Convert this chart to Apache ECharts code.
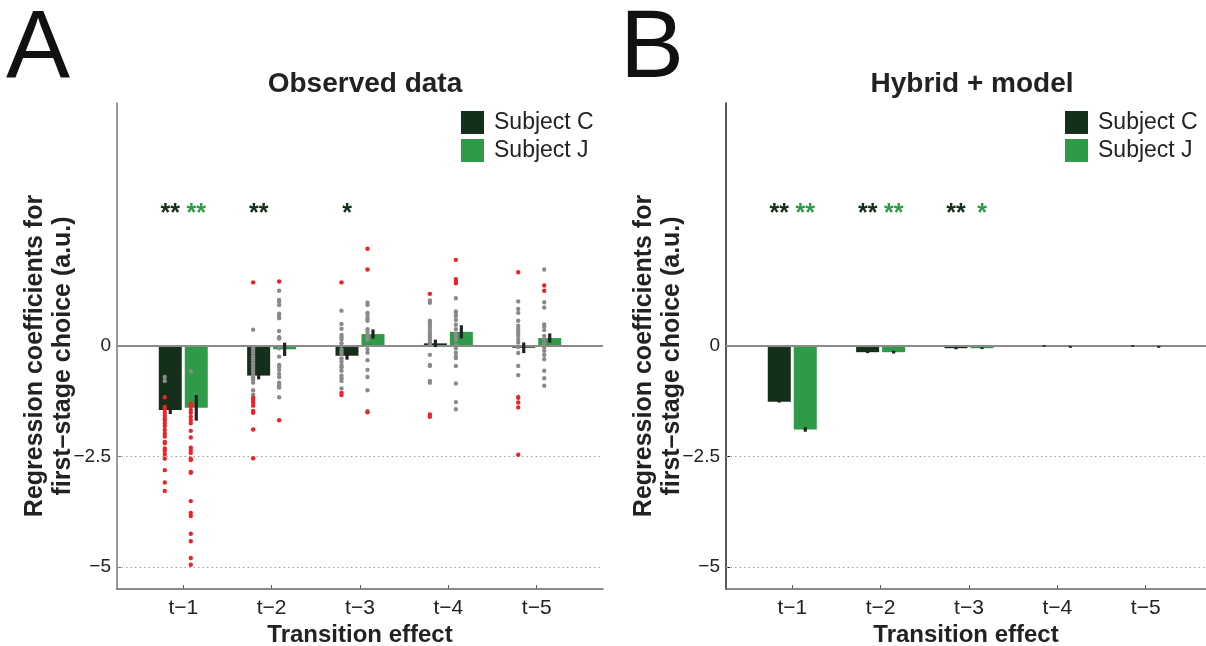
<!DOCTYPE html>
<html>
<head>
<meta charset="utf-8">
<script src="https://cdn.jsdelivr.net/npm/echarts@6/dist/echarts.min.js"></script>
<style>
  html, body { margin: 0; padding: 0; background: #fff; }
  #chart { width: 1206px; height: 646px; }
</style>
</head>
<body>
<div id="chart"></div>
<script>
// ---- data ----
const categories = ['t−1', 't−2', 't−3', 't−4', 't−5'];
const subjects = ['Subject C', 'Subject J'];
const yTicks = [0, -2.5, -5];

// Observed data: mean regression coefficient and standard error per lag
const observedC    = [-1.45, -0.67, -0.22, 0.06, -0.04];
const observedCErr = [0.09, 0.085, 0.09, 0.085, 0.12];
const observedJ    = [-1.40, -0.075, 0.27, 0.32, 0.18];
const observedJErr = [0.29, 0.15, 0.105, 0.15, 0.105];

// Hybrid + model simulations
const hybridC    = [-1.26, -0.14, -0.05, 0.01, 0.01];
const hybridCErr = [0.02, 0.02, 0.01, 0.01, 0.01];
const hybridJ    = [-1.89, -0.14, -0.05, -0.02, -0.02];
const hybridJErr = [0.05, 0.03, 0.02, 0.02, 0.02];

// Single-session coefficients (gray: not significant, red: significant)
const sessionsCGray = [
  [-0.70, -0.79],
  [0.37, -0.05, -0.11, -0.17, -0.23, -0.28, -0.33, -0.39, -0.45, -0.49, -0.54, -0.60, -0.66, -0.71, -0.76, -0.83, -1.00, -1.10],
  [0.80, 0.50, 0.39, 0.25, 0.20, 0.14, 0.06, -0.07, -0.13, -0.18, -0.28, -0.35, -0.43, -0.48, -0.56, -0.67, -0.73, -0.79, -0.96],
  [1.03, 0.98, 0.57, 0.53, 0.48, 0.42, 0.36, 0.30, 0.25, 0.20, 0.14, 0.08, 0.02, -0.20, -0.43, -0.45, -0.79, -0.83],
  [1.01, 0.84, 0.75, 0.57, 0.46, 0.40, 0.35, 0.29, 0.23, 0.15, 0.08, -0.02, -0.16, -0.45, -0.66, -1.15]
];
const sessionsCRed = [
  [-1.16, -1.38, -1.44, -1.51, -1.58, -1.64, -1.68, -1.75, -1.81, -1.90, -1.98, -2.05, -2.17, -2.20, -2.32, -2.37, -2.45, -2.55, -2.81, -3.09, -3.28],
  [1.44, -1.17, -1.22, -1.28, -1.35, -1.47, -1.51, -1.89, -2.54],
  [1.44, -1.06, -1.11],
  [1.18, -1.55, -1.60],
  [1.67, -1.17, -1.28, -1.39, -2.46]
];
const sessionsJGray = [
  [-0.57],
  [1.25, 1.04, 1.00, 0.93, 0.73, 0.68, 0.63, 0.34, 0.20, 0.17, -0.05, -0.24, -0.43, -0.47, -0.54, -0.63, -0.70, -0.83, -0.89, -0.94, -1.16],
  [0.98, 0.93, 0.75, 0.70, 0.63, 0.57, 0.38, 0.32, 0.25, 0.20, 0.14, -0.07, -0.15, -0.32, -0.54, -0.70, -1.00, -1.47],
  [1.08, 0.78, 0.74, 0.68, 0.59, 0.48, 0.38, 0.27, 0.20, 0.14, 0.02, -0.05, -0.15, -0.23, -0.27, -0.45, -0.85, -1.27, -1.43],
  [1.73, 0.99, 0.87, 0.49, 0.44, 0.36, 0.23, 0.15, 0.06, -0.03, -0.11, -0.20, -0.30, -0.56, -0.73, -0.90]
];
const sessionsJRed = [
  [-1.30, -1.34, -1.37, -1.45, -1.51, -1.60, -1.68, -1.75, -1.92, -2.07, -2.30, -2.36, -2.42, -2.55, -2.58, -2.85, -2.87, -3.51, -3.78, -3.85, -4.25, -4.42, -4.80, -4.95],
  [1.46, -1.68],
  [2.20, 1.73, -1.50],
  [1.95, 1.51, 1.46, 1.42],
  [1.37, 1.25]
];

// Significance markers
const observedStarsC = ['**', '**', '*', '', ''];
const observedStarsJ = ['**', '', '', '', ''];
const hybridStarsC   = ['**', '**', '**', '', ''];
const hybridStarsJ   = ['**', '**', '*', '', ''];

// ---- style ----
const COLOR_C = '#14301a';
const COLOR_J = '#2f9b48';
const DOT_GRAY = '#8a8a8a';
const DOT_RED = '#ee2228';
const ERR_COLOR = '#222';
const FONT = '"Liberation Sans", Arial, Helvetica, sans-serif';
const BAR_OFFSET = 13;   // px from tick to bar centre
const BAR_W = 23;        // px
const DOT_SHIFT = -5.5;  // px from bar centre
const STAR_LEVEL = 3.1;

const chart = echarts.init(document.getElementById('chart'), null, { renderer: 'canvas' });

function barSeries(name, values, side, axisIdx) {
  return {
    type: 'custom', name: name, xAxisIndex: axisIdx, yAxisIndex: axisIdx,
    itemStyle: { color: side ? COLOR_J : COLOR_C },
    z: 2,
    data: values.map((v, i) => [i + 1, v]),
    renderItem: function (params, api) {
      const x = api.value(0), v = api.value(1);
      const base = api.coord([x, 0]);
      const end = api.coord([x, v]);
      const cx = base[0] + (side ? BAR_OFFSET : -BAR_OFFSET);
      return {
        type: 'rect',
        shape: { x: cx - BAR_W / 2, y: Math.min(base[1], end[1]), width: BAR_W, height: Math.abs(end[1] - base[1]) },
        style: { fill: api.visual('color') }
      };
    }
  };
}

function errorSeries(values, errs, side, axisIdx) {
  return {
    type: 'custom', xAxisIndex: axisIdx, yAxisIndex: axisIdx, z: 5, silent: true,
    data: values.map((v, i) => [i + 1, v, errs[i]]),
    renderItem: function (params, api) {
      const x = api.value(0), v = api.value(1), e = api.value(2);
      const hi = api.coord([x, v + e]);
      const lo = api.coord([x, v - e]);
      const cx = hi[0] + (side ? BAR_OFFSET : -BAR_OFFSET);
      return {
        type: 'rect',
        shape: { x: cx - 1.6, y: hi[1], width: 3.2, height: Math.max(lo[1] - hi[1], 1.5) },
        style: { fill: ERR_COLOR }
      };
    }
  };
}

function dotSeries(lists, side, color, axisIdx) {
  const data = [];
  lists.forEach((arr, i) => arr.forEach(v => data.push([i + 1, v])));
  return {
    type: 'custom', xAxisIndex: axisIdx, yAxisIndex: axisIdx, z: 4, silent: true,
    data: data,
    renderItem: function (params, api) {
      const p = api.coord([api.value(0), api.value(1)]);
      const cx = p[0] + (side ? BAR_OFFSET : -BAR_OFFSET) + DOT_SHIFT;
      return { type: 'circle', shape: { cx: cx, cy: p[1], r: 2.2 }, style: { fill: color } };
    }
  };
}

function starSeries(marks, side, axisIdx) {
  return {
    type: 'custom', xAxisIndex: axisIdx, yAxisIndex: axisIdx, z: 6, silent: true,
    data: marks.map((m, i) => [i + 1, STAR_LEVEL, m]),
    renderItem: function (params, api) {
      const p = api.coord([api.value(0), api.value(1)]);
      const cx = p[0] + (side ? BAR_OFFSET : -BAR_OFFSET);
      return {
        type: 'text',
        style: {
          x: cx, y: p[1] + 5, text: marks[params.dataIndex],
          fill: side ? COLOR_J : COLOR_C,
          font: 'bold 25px ' + FONT, align: 'center', verticalAlign: 'middle'
        }
      };
    }
  };
}

function guideSeries(axisIdx) {
  return {
    type: 'line', xAxisIndex: axisIdx, yAxisIndex: axisIdx, data: [], silent: true,
    markLine: {
      silent: true, symbol: 'none', animation: false, z: 3,
      label: { show: false },
      data: [
        { yAxis: 0, lineStyle: { color: '#8a8a8a', width: 2, type: 'solid' } },
        { yAxis: -2.5, lineStyle: { color: '#a0a0a0', width: 1, type: [1.5, 3] } },
        { yAxis: -5, lineStyle: { color: '#a0a0a0', width: 1, type: [1.5, 3] } }
      ]
    }
  };
}

function xAxis(gridIdx, max, lineColor) {
  return {
    type: 'value', gridIndex: gridIdx, min: 0.25, max: max,
    name: 'Transition effect', nameLocation: 'middle', nameGap: 34, nameMoveOverlap: false,
    nameTextStyle: { fontFamily: FONT, fontWeight: 'bold', fontSize: 24, color: '#222' },
    axisLine: { show: true, onZero: false, lineStyle: { color: lineColor, width: 1.5 } },
    axisTick: { show: true, inside: true, length: 4, customValues: [1, 2, 3, 4, 5], lineStyle: { color: lineColor } },
    axisLabel: {
      customValues: [1, 2, 3, 4, 5], margin: 9,
      formatter: v => categories[Math.round(v) - 1] || '',
      fontFamily: FONT, fontSize: 21, color: '#222'
    },
    splitLine: { show: false }
  };
}

function yAxis(gridIdx, lineColor) {
  return {
    type: 'value', gridIndex: gridIdx, min: -5.5, max: 5.5,
    name: 'Regression coefficients for\nfirst–stage choice (a.u.)',
    nameLocation: 'middle', nameGap: 40, nameMoveOverlap: false,
    nameTextStyle: {
      fontFamily: FONT, fontWeight: 'bold', fontSize: 25, lineHeight: 28, color: '#222',
      padding: [0, 20, 0, 0]
    },
    axisLine: { show: true, onZero: false, lineStyle: { color: lineColor, width: 1.5 } },
    axisTick: { show: true, inside: true, length: 4, customValues: yTicks, lineStyle: { color: lineColor } },
    axisLabel: {
      customValues: yTicks, margin: 6,
      formatter: v => (v === 0 ? '0' : '−' + Math.abs(v)),
      fontFamily: FONT, fontSize: 19, color: '#222'
    },
    splitLine: { show: false }
  };
}

function legend(left) {
  return {
    left: left, top: 111, orient: 'vertical', icon: 'rect',
    itemWidth: 23, itemHeight: 23, itemGap: 5, padding: 0,
    selectedMode: false,
    data: subjects,
    textStyle: { fontFamily: FONT, fontSize: 23, color: '#222', padding: [0, 0, 0, 5] }
  };
}

const option = {
  animation: false,
  backgroundColor: '#fff',
  title: [
    { text: 'Observed data', left: 360, top: 65, textAlign: 'center',
      textStyle: { fontFamily: FONT, fontWeight: 'bold', fontSize: 28, color: '#222' } },
    { text: 'Hybrid + model', left: 967, top: 65, textAlign: 'center',
      textStyle: { fontFamily: FONT, fontWeight: 'bold', fontSize: 28, color: '#222' } }
  ],
  legend: [legend(461), legend(1065)],
  graphic: [
    { type: 'text', left: 6, top: 3, style: { text: 'A', font: '96px ' + FONT, fill: '#111' } },
    { type: 'text', left: 620, top: 3, style: { text: 'B', font: '96px ' + FONT, fill: '#111' } }
  ],
  grid: [
    { left: 117, top: 103, width: 486, height: 486, outerBoundsMode: 'none', containLabel: false },
    { left: 726, top: 103, width: 480, height: 486, outerBoundsMode: 'none', containLabel: false }
  ],
  xAxis: [xAxis(0, 5.75, '#666'), xAxis(1, 0.25 + 480 / 88.36, '#666')],
  yAxis: [yAxis(0, '#777'), yAxis(1, '#222')],
  series: [
    guideSeries(0),
    barSeries(subjects[0], observedC, 0, 0),
    barSeries(subjects[1], observedJ, 1, 0),
    dotSeries(sessionsCGray, 0, DOT_GRAY, 0),
    dotSeries(sessionsCRed, 0, DOT_RED, 0),
    dotSeries(sessionsJGray, 1, DOT_GRAY, 0),
    dotSeries(sessionsJRed, 1, DOT_RED, 0),
    errorSeries(observedC, observedCErr, 0, 0),
    errorSeries(observedJ, observedJErr, 1, 0),
    starSeries(observedStarsC, 0, 0),
    starSeries(observedStarsJ, 1, 0),

    guideSeries(1),
    barSeries(subjects[0], hybridC, 0, 1),
    barSeries(subjects[1], hybridJ, 1, 1),
    errorSeries(hybridC, hybridCErr, 0, 1),
    errorSeries(hybridJ, hybridJErr, 1, 1),
    starSeries(hybridStarsC, 0, 1),
    starSeries(hybridStarsJ, 1, 1)
  ]
};

chart.setOption(option);
</script>
</body>
</html>
